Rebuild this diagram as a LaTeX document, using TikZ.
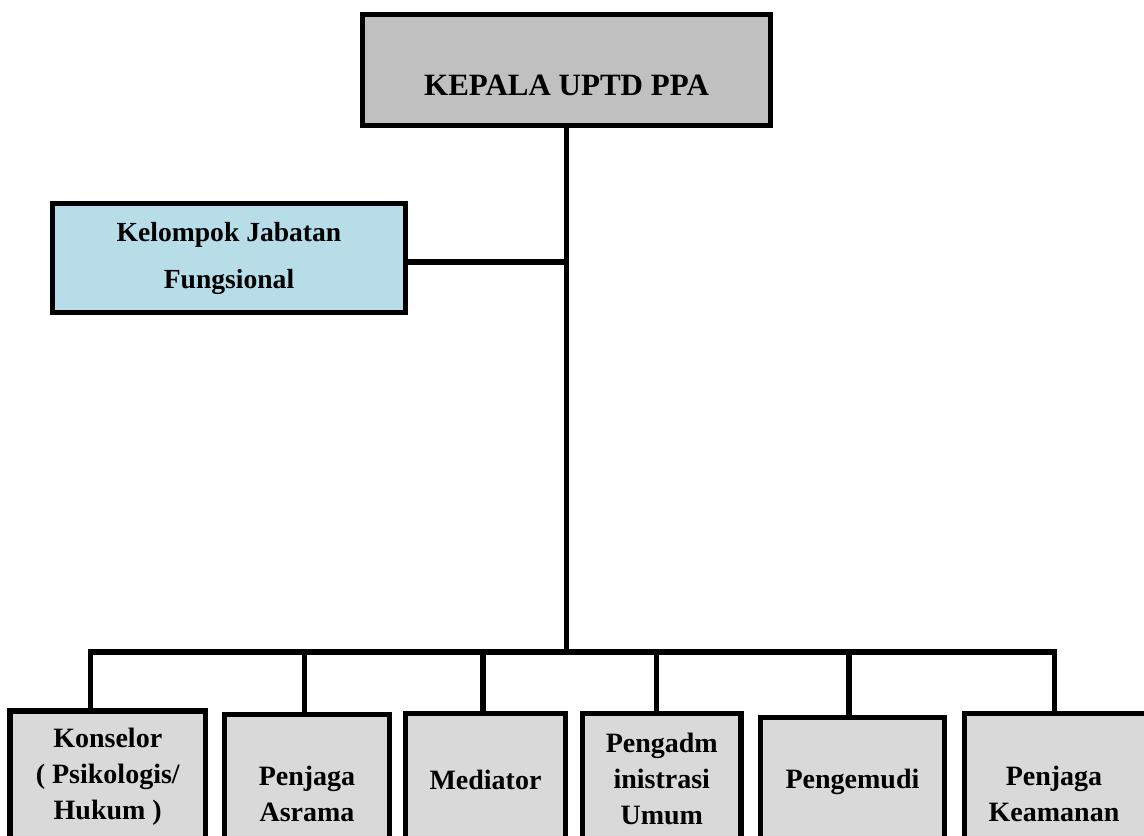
\documentclass[tikz,border=0pt]{standalone}
\usepackage{fontspec}
\setmainfont{Liberation Serif}
\usetikzlibrary{calc}
\definecolor{topgray}{HTML}{C0C0C0}
\definecolor{boxgray}{HTML}{D9D9D9}
\definecolor{lightblue}{HTML}{B7DDE8}
\tikzset{
  orgbox/.style={draw=black, line width=2.7pt, rectangle, inner sep=0pt, outer sep=0pt, align=center,
    font=\bfseries\fontsize{14}{18}\selectfont},
  staffbox/.style={orgbox, fill=boxgray},
  conn/.style={draw=black, line width=2.7pt, line join=miter},
}
\begin{document}
\begin{tikzpicture}[x=0.5pt,y=-0.5pt]
\clip (0,0) rectangle (1144,835);
\fill[white] (0,0) rectangle (1144,835);
% top box
\node[orgbox, fill=topgray, minimum width=204pt, minimum height=55.5pt] (top) at (566.5,70) {};
\node[font=\bfseries\fontsize{15.5}{18}\selectfont, inner sep=0pt] (toptext) at (566.5,85) {KEPALA UPTD PPA};
% functional group
\node[orgbox, fill=lightblue, minimum width=176.5pt, minimum height=54.5pt,
      font=\bfseries\fontsize{13.8}{23.5}\selectfont] (kel) at (229,258) {Kelompok Jabatan\\Fungsional};
% bottom boxes
\node[staffbox, minimum width=97.75pt, minimum height=66pt] (b1) at (107.75,777) {Konselor\\( Psikologis/\\Hukum )};
\node[staffbox, minimum width=82.5pt, minimum height=79pt] (b2) at (307,793.5) {Penjaga\\Asrama};
\node[staffbox, minimum width=80pt, minimum height=66.5pt] (b3) at (485.5,780) {Mediator};
\node[staffbox, minimum width=79.25pt, minimum height=65.5pt] (b4) at (661.75,779) {Pengadm\\inistrasi\\Umum};
\node[staffbox, minimum width=92pt, minimum height=64.5pt] (b5) at (852.5,782) {Pengemudi};
\node[staffbox, minimum width=98pt, minimum height=80pt] (b6) at (1062.5,793.5) {};
\node[font=\bfseries\fontsize{14}{18}\selectfont, align=center, inner sep=0pt] (b6text) at (1054,793.5) {Penjaga\\Keamanan};
% bus coordinates
\coordinate (d1) at (90.5,652);
\coordinate (d2) at (304.5,652);
\coordinate (d3) at (483,652);
\coordinate (d4) at (656.5,652);
\coordinate (d5) at (849,652);
\coordinate (d6) at (1054.5,652);
\coordinate (kj) at (566.5,262);
% connectors
\draw[conn] (top.south) -- (top.south |- d1);
\draw[conn] ([yshift=-2pt]kel.east) -- (kj);
\draw[conn] (d1 |- b1.north) -- (d1) -- (d6) -- (d6 |- b6.north);
\draw[conn] (d2) -- (d2 |- b2.north);
\draw[conn] (d3) -- (d3 |- b3.north);
\draw[conn] (d4) -- (d4 |- b4.north);
\draw[conn] (d5) -- (d5 |- b5.north);
\end{tikzpicture}
\end{document}
